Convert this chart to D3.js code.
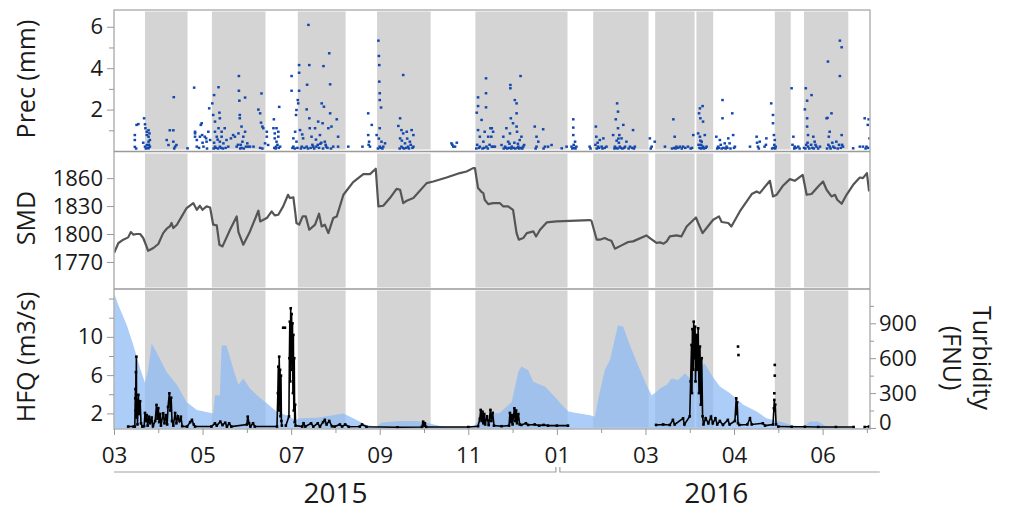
<!DOCTYPE html>
<html>
<head>
<meta charset="utf-8">
<script src="https://cdn.jsdelivr.net/npm/d3@7"></script>
<style>
  body { margin: 0; background: #fff; }
  svg { display: block; }
  text { font-family: "Open Sans", "Noto Sans", sans-serif; fill: #1a1a1a; }
</style>
</head>
<body>
<svg id="chart" width="1013" height="512"></svg>
<script>
// Time is expressed in months since 1 March 2015.

// Shaded periods [start, end]
const shadeBands = [
  [0.70, 1.66], [2.21, 3.42], [4.15, 5.23], [5.94, 7.15], [8.16, 10.24],
  [10.82, 12.07], [12.22, 13.11], [13.15, 13.53], [14.92, 15.28], [15.58, 16.58]
];

// Precipitation observations [t, mm]
const precObs = [
  [0.47,0.77],[0.47,0.53],[0.47,0.2],[0.51,1.26],[0.55,1.3],[0.68,1.58],[0.70,1.29],[0.71,1.1],[0.74,0.93],[0.74,0.77],[0.78,1.0],[0.78,0.69],[0.78,0.45],[0.74,0.29],[0.70,0.21],[0.81,0.53],[0.81,0.21],[0.80,0.85],[0.78,0.13],[0.72,0.12],[0.76,0.15],[0.50,0.12],[0.66,0.4],[0.79,0.3],
  [1.19,0.53],[1.23,0.29],[1.26,1.0],[1.34,1.0],[1.35,2.6],[1.34,0.45],[1.38,0.21],[1.41,0.29],[1.36,0.12],
  [1.66,0.13],
  [1.81,3.06],[1.83,0.85],[1.83,0.69],[1.83,0.93],[1.87,0.53],[1.87,0.21],[1.94,0.69],[1.96,1.26],[1.98,1.34],[1.99,0.77],[2.02,0.21],[2.05,0.69],[2.08,0.61],[2.09,0.45],[2.13,0.93],[2.15,2.06],[2.17,0.53],[1.92,0.15],[2.10,0.12],[2.0,0.4],
  [2.22,2.3],[2.24,1.74],[2.26,2.7],[2.28,1.42],[2.28,0.93],[2.28,0.21],[2.32,0.69],[2.36,3.08],[2.36,1.1],[2.38,1.85],[2.39,1.58],[2.39,0.45],[2.39,0.21],[2.43,0.93],[2.43,0.69],[2.47,0.37],[2.50,1.1],[2.54,0.53],[2.58,0.21],[2.25,0.12],[2.30,0.15],[2.35,0.12],[2.42,0.15],[2.46,0.12],[2.52,0.15],[2.26,0.4],[2.34,0.55],
  [2.64,0.61],[2.69,0.77],[2.73,0.69],[2.77,0.21],[2.81,0.85],[2.82,3.62],[2.82,2.91],[2.83,2.43],[2.84,1.74],[2.84,1.58],[2.88,1.18],[2.90,0.45],[2.92,0.69],[2.96,2.58],[2.96,0.93],[2.98,0.21],[3.01,0.37],[3.03,0.21],[3.07,0.21],[3.15,0.21],[2.85,0.12],[2.88,0.15],[2.93,0.12],[2.80,0.3],[2.86,0.3],
  [3.26,2.0],[3.30,1.82],[3.32,1.37],[3.33,2.78],[3.35,1.18],[3.37,1.1],[3.41,0.37],[3.45,0.69],[3.48,0.29],[3.45,0.93],[3.60,1.1],[3.61,1.53],[3.63,0.85],[3.63,0.61],[3.66,0.21],[3.67,0.45],[3.67,1.1],[3.71,0.93],[3.71,0.69],[3.73,2.13],[3.75,0.21],[3.30,0.15],[3.35,0.12],[3.62,0.15],[3.65,0.12],[3.69,0.3],[3.72,0.15],
  [4.01,3.62],[4.01,2.91],[4.05,0.61],[4.05,0.21],[4.09,0.93],[4.11,1.74],[4.12,1.98],[4.15,2.46],[4.16,2.3],[4.18,3.78],[4.18,2.91],[4.18,4.15],[4.20,1.01],[4.24,0.21],[4.27,0.61],[4.35,0.21],[4.39,6.09],[4.41,4.15],[4.36,3.2],[4.35,2.01],[4.41,1.58],[4.42,1.1],[4.46,0.69],[4.50,0.21],[4.54,1.1],[4.57,0.21],[4.61,1.42],[4.65,0.77],[4.69,2.3],[4.71,1.34],[4.73,4.1],[4.74,2.14],[4.76,0.45],[4.79,0.21],[4.84,1.1],[4.86,4.72],[4.88,3.22],[4.88,1.82],[4.91,1.18],[4.95,0.21],[5.03,1.53],[5.06,0.69],[5.06,0.21],[5.29,0.21],[4.03,0.15],[4.08,0.12],[4.14,0.15],[4.22,0.12],[4.30,0.15],[4.38,0.12],[4.44,0.15],[4.48,0.3],[4.52,0.12],[4.60,0.3],[4.63,0.15],[4.68,0.4],[4.72,0.12],[4.78,0.3],[4.82,0.15],[4.90,0.12],[4.12,0.45],[4.25,0.8],[4.56,0.55],[4.66,0.35],
  [5.61,0.21],[5.74,1.82],[5.74,0.77],[5.76,0.45],[5.78,0.21],[5.82,1.26],[5.93,0.77],[5.97,5.33],[5.98,4.59],[5.99,4.15],[5.99,3.35],[6.00,2.79],[6.00,2.46],[6.03,2.1],[6.00,1.1],[6.04,0.45],[6.08,0.21],[6.12,0.37],[6.00,0.21],[5.96,0.12],[6.02,0.15],[5.98,0.6],[6.06,0.12],[5.75,0.3],
  [6.42,1.21],[6.46,1.58],[6.46,0.61],[6.49,1.01],[6.49,0.21],[6.53,3.67],[6.53,0.85],[6.57,0.37],[6.61,0.93],[6.64,0.21],[6.68,0.45],[6.72,1.01],[6.76,0.77],[6.76,0.21],[6.45,0.12],[6.52,0.15],[6.55,0.12],[6.60,0.15],[6.66,0.12],[6.70,0.3],[6.74,0.15],[6.50,0.5],[6.62,0.6],
  [7.62,0.37],[7.66,0.21],[7.74,0.4],[7.64,0.3],[7.70,0.21],
  [8.19,1.85],[8.22,2.59],[8.22,2.17],[8.22,1.01],[8.26,0.69],[8.26,0.21],[8.30,1.5],[8.34,0.45],[8.40,3.51],[8.40,2.79],[8.40,2.11],[8.37,0.93],[8.41,0.21],[8.45,0.69],[8.50,1.1],[8.53,0.21],[8.60,0.21],[8.56,0.93],[8.18,0.12],[8.24,0.15],[8.20,0.3],[8.32,0.12],[8.36,0.15],[8.44,0.12],[8.48,0.3],[8.52,0.69],[8.53,1.1],[8.56,0.21],
  [8.75,0.29],[8.79,0.69],[8.83,0.21],[8.86,1.1],[8.90,0.45],[8.94,0.85],[8.95,3.19],[8.95,3.03],[8.96,1.58],[8.98,0.21],[9.01,1.34],[9.05,2.46],[9.09,2.3],[9.09,1.82],[9.09,1.18],[9.10,0.93],[9.13,0.21],[9.16,0.53],[9.18,3.62],[9.20,0.69],[9.24,0.21],[9.26,0.29],[8.80,0.12],[8.85,0.15],[8.88,0.12],[8.92,0.15],[8.97,0.12],[9.02,0.15],[9.06,0.12],[9.11,0.15],[9.15,0.12],[9.19,0.15],[9.22,0.12],[9.04,0.4],[9.12,0.35],[8.93,0.35],
  [9.50,1.18],[9.54,0.69],[9.54,0.21],[9.58,0.45],[9.69,1.05],[9.73,0.21],[9.80,0.21],[9.88,0.29],[9.52,0.12],[9.70,0.12],
  [10.11,0.13],[10.22,0.21],[10.33,0.21],[10.37,1.53],[10.37,1.13],[10.37,0.77],[10.41,0.45],[10.44,0.21],[10.35,0.12],[10.39,0.15],[10.42,0.12],[10.38,0.3],
  [10.74,0.21],[10.88,1.18],[10.89,0.69],[10.93,0.21],[10.97,0.53],[11.01,0.21],[11.05,0.61],[11.12,0.21],[10.76,0.12],[10.90,0.12],[10.92,0.4],[10.95,0.15],[11.03,0.12],[11.08,0.15],[10.87,0.3],
  [11.27,0.77],[11.31,0.21],[11.33,1.53],[11.36,2.3],[11.38,1.9],[11.38,1.1],[11.41,0.77],[11.42,0.21],[11.46,0.61],[11.50,1.26],[11.54,0.21],[11.57,0.45],[11.65,0.21],[11.72,1.01],[11.76,0.21],[11.30,0.12],[11.34,0.15],[11.37,0.12],[11.40,0.4],[11.44,0.15],[11.48,0.12],[11.52,0.15],[11.35,0.5],[11.39,0.6],[11.62,0.12],[11.70,0.15],[11.74,0.12],
  [12.10,0.61],[12.14,0.21],[12.21,0.45],[12.44,0.21],[12.63,1.53],[12.66,0.69],[12.70,0.21],[12.78,0.21],[12.85,0.21],[12.96,0.21],[13.08,0.77],[12.12,0.12],[12.60,0.12],[12.65,0.15],[12.68,0.12],[12.74,0.15],[12.82,0.12],[12.90,0.15],[13.02,0.12],[13.05,0.15],
  [13.21,1.82],[13.23,2.06],[13.24,1.58],[13.29,2.17],[13.30,1.42],[13.19,0.85],[13.23,0.69],[13.27,0.45],[13.30,0.21],[13.34,0.77],[13.38,0.21],[13.20,0.3],[13.22,0.15],[13.25,0.12],[13.26,0.3],[13.28,0.15],[13.32,0.12],[13.36,0.15],[13.24,0.5],
  [13.60,0.69],[13.64,0.21],[13.68,0.53],[13.74,2.46],[13.74,1.58],[13.79,0.37],[13.83,0.21],[13.87,0.61],[13.90,0.37],[13.96,1.82],[13.98,0.77],[14.02,0.21],[13.62,0.12],[13.66,0.15],[13.70,0.3],[13.72,0.12],[13.76,0.15],[13.81,0.12],[13.85,0.15],[13.92,0.12],[14.00,0.15],
  [14.36,0.21],[14.51,0.69],[14.54,0.21],[14.58,0.45],[14.69,0.21],[14.73,0.61],[14.84,2.3],[14.88,1.74],[14.88,1.34],[14.90,0.77],[14.92,0.53],[14.94,0.21],[14.52,0.4],[14.56,0.12],[14.72,0.3],[14.86,0.12],[14.89,0.15],[14.91,0.3],[14.93,0.12],
  [15.30,3.03],[15.34,0.69],[15.37,0.21],[15.45,0.21],[15.60,2.01],[15.62,3.03],[15.65,2.43],[15.65,1.58],[15.65,1.18],[15.67,0.77],[15.67,0.21],[15.75,2.7],[15.79,0.69],[15.82,0.45],[15.86,0.21],[15.94,0.21],[15.32,0.3],[15.36,0.12],[15.40,0.15],[15.48,0.12],[15.58,0.15],[15.61,0.12],[15.63,0.3],[15.66,0.4],[15.70,0.12],[15.74,0.3],[15.77,0.15],[15.80,0.12],[15.84,0.3],[15.90,0.12],
  [16.09,1.58],[16.12,4.32],[16.14,0.69],[16.16,0.93],[16.16,0.21],[16.20,1.82],[16.24,0.21],[16.31,0.45],[16.39,5.33],[16.39,3.62],[16.43,5.01],[16.43,0.77],[16.46,0.21],[16.10,0.12],[16.13,0.3],[16.18,0.12],[16.22,0.4],[16.27,0.15],[16.34,0.12],[16.37,0.3],[16.41,0.15],[16.44,0.3],[16.11,1.6],
  [16.69,0.13],[16.84,0.21],[16.91,0.21],[16.95,1.58],[16.99,0.21],[17.02,1.26],[17.04,1.53],[17.06,0.61],[16.97,0.12],[17.03,0.15]
];

// Soil moisture deficit [t, SMD]
const smdSeries = [
  [0.00,1779.6],[0.10,1790.4],[0.21,1793.9],[0.32,1796.4],[0.38,1802.1],[0.44,1799.3],[0.51,1800],[0.59,1800],[0.66,1795.7],[0.72,1788.5],[0.77,1782],[0.89,1785],[1.00,1789.3],[1.11,1801],[1.19,1805.7],[1.26,1808.1],[1.30,1811.8],[1.34,1806.4],[1.42,1810],[1.53,1818.9],[1.64,1827.9],[1.79,1833.2],[1.87,1826],[1.94,1830.3],[2.00,1826],[2.09,1829.6],[2.17,1828.5],[2.24,1810],[2.32,1809.2],[2.38,1788.5],[2.45,1786.7],[2.62,1804.6],[2.77,1818.9],[2.81,1802.1],[2.92,1788.5],[3.07,1802.8],[3.26,1825],[3.30,1813.5],[3.45,1817.1],[3.56,1824.2],[3.63,1820],[3.71,1820.7],[3.82,1829.6],[3.93,1842.1],[3.97,1838.6],[4.05,1839.3],[4.09,1824.2],[4.12,1811.8],[4.18,1810],[4.26,1818.9],[4.33,1818.9],[4.41,1804.6],[4.54,1810],[4.63,1821.8],[4.69,1808.1],[4.76,1810],[4.84,1801],[4.95,1817.1],[5.03,1818.9],[5.18,1842.1],[5.40,1855.7],[5.63,1864.3],[5.78,1864.3],[5.91,1870],[5.97,1829.6],[6.08,1830.3],[6.23,1838.6],[6.38,1848.5],[6.46,1847.5],[6.53,1833.2],[6.61,1835.7],[6.76,1838.6],[7.06,1854.6],[7.21,1856.4],[7.51,1860.6],[7.81,1865.4],[7.96,1867.1],[8.11,1870.7],[8.15,1870.7],[8.22,1849.3],[8.30,1845],[8.34,1843.9],[8.37,1836.8],[8.45,1832.1],[8.56,1833.2],[8.71,1833.2],[8.79,1829.6],[8.90,1829.6],[9.01,1826],[9.09,1801],[9.14,1793.9],[9.24,1795.7],[9.32,1801],[9.47,1802.8],[9.53,1797.4],[9.62,1804.6],[9.77,1812.4],[9.99,1813.5],[10.74,1815],[10.78,1814.3],[10.90,1793.9],[10.97,1793.9],[11.08,1795.7],[11.16,1793.9],[11.23,1792.8],[11.31,1784.3],[11.46,1787.8],[11.61,1791.4],[11.72,1792.1],[12.02,1798.5],[12.10,1795.7],[12.25,1790.4],[12.33,1791],[12.41,1789.6],[12.48,1792.1],[12.55,1797.4],[12.70,1798.5],[12.81,1797.4],[12.93,1808.1],[13.14,1817.8],[13.19,1811.8],[13.29,1801],[13.38,1806.4],[13.53,1815.3],[13.66,1818.9],[13.72,1812.9],[13.87,1811.8],[13.94,1808.1],[14.13,1824.2],[14.40,1842.9],[14.51,1845.7],[14.58,1843.9],[14.81,1857.1],[14.88,1840.3],[14.96,1842.1],[15.11,1852.1],[15.26,1858.9],[15.37,1857.1],[15.55,1863.5],[15.64,1842.1],[15.75,1842.9],[15.90,1851],[16.01,1856.4],[16.09,1847.5],[16.20,1840.3],[16.28,1842.1],[16.33,1836.8],[16.43,1832.5],[16.54,1842.1],[16.69,1852.8],[16.84,1860.6],[16.91,1860],[17.00,1865.4],[17.05,1845.7]
];

// High-flow discharge [t, m3/s]
const hfqSeries = [
  [0.00,14.4],[0.02,14.35],[0.10,13.3],[0.29,11.2],[0.44,9.1],[0.59,6.7],[0.70,5.2],[0.77,6.5],[0.85,9.3],[0.96,8.4],[1.19,6.3],[1.42,5.0],[1.64,3.2],[1.87,2.35],[2.24,2.0],[2.28,3.9],[2.39,3.9],[2.43,9.1],[2.54,9.1],[2.69,6.7],[2.81,5.0],[2.92,5.65],[3.07,4.6],[3.30,3.6],[3.45,3.05],[3.67,2.2],[3.97,1.65],[4.09,1.3],[4.20,1.5],[4.58,1.55],[4.95,1.8],[5.18,2.0],[5.40,1.5],[5.70,0.8],[5.93,0.6],[6.04,1.05],[6.46,1.2],[6.83,1.2],[7.13,0.95],[7.43,0.6],[8.11,0.55],[8.26,1.5],[8.56,2.0],[8.71,2.05],[8.98,3.2],[9.13,6.35],[9.20,6.9],[9.35,6.5],[9.47,5.3],[9.62,5.0],[9.73,4.8],[9.92,3.9],[10.11,2.9],[10.26,2.2],[10.44,2.05],[10.75,1.8],[10.86,1.65],[10.93,3.4],[11.08,6.5],[11.20,7.6],[11.38,11.2],[11.50,11.05],[11.65,9.1],[11.80,7.4],[12.02,5.0],[12.14,3.9],[12.21,4.1],[12.33,4.6],[12.48,5.0],[12.59,5.65],[12.74,5.5],[12.89,6.2],[13.00,5.65],[13.15,6.7],[13.34,7.2],[13.49,6.0],[13.68,4.8],[13.91,4.1],[14.21,2.9],[14.51,2.2],[14.73,1.5],[15.03,1.15],[15.30,0.8],[15.56,0.55],[15.71,1.15],[15.90,1.15],[16.09,0.6],[16.61,0.5],[17.07,0.45]
];

// Turbidity [t, FNU]; null entries break the trace
const turbSeries = [
  [0.32,12],[0.44,12],[0.47,12],[0.48,255],[0.485,335],[0.49,150],[0.495,480],[0.50,200],[0.505,613],[0.51,90],[0.52,240],[0.53,30],[0.55,285],[0.57,120],[0.59,230],[0.61,40],[0.64,12],[0.68,15],[0.70,129],[0.72,60],[0.74,110],[0.76,20],[0.79,97],[0.82,40],[0.85,90],[0.88,15],[0.93,60],[0.96,198],[0.98,80],[1.00,170],[1.02,50],[1.04,120],[1.06,20],[1.11,126],[1.14,40],[1.17,110],[1.20,30],[1.22,180],[1.25,298],[1.27,150],[1.29,260],[1.31,60],[1.34,20],[1.38,129],[1.41,40],[1.44,100],[1.48,60],[1.51,97],[1.54,15],[1.65,12],[1.72,50],[1.76,69],[1.80,30],[1.83,12],[2.20,12],[2.28,40],[2.32,20],[2.40,54],[2.45,25],[2.51,45],[2.55,12],[2.60,40],[2.65,12],[3.00,30],[3.02,97],[3.05,40],[3.08,12],[3.14,40],[3.18,12],
  [3.68,12],[3.70,300],[3.71,527],[3.72,150],[3.73,613],[3.74,400],[3.75,500],[3.76,100],[3.77,450],[3.78,60],[3.79,20],[3.80,null],
  [3.82,862],[3.83,null],[3.86,862],[3.87,null],
  [3.88,20],[3.95,100],[3.96,600],[3.97,914],[3.98,400],[3.99,1029],[4.00,700],[4.01,980],[4.02,500],[4.03,900],[4.04,300],[4.05,800],[4.06,150],[4.07,600],[4.08,50],[4.09,200],[4.10,20],[4.25,12],[4.28,40],[4.32,12],[4.45,40],[4.50,12],[4.60,40],[4.65,12],[4.72,50],[4.76,69],[4.80,30],[4.86,60],[4.92,15],[4.98,12],[5.10,30],[5.15,12],[5.22,30],[5.30,10],[5.55,12],[5.60,30],[5.70,10],[6.40,6],[6.95,8],[6.98,54],[7.00,20],[7.02,40],[7.05,8],[8.00,8],
  [8.22,15],[8.26,80],[8.28,155],[8.30,60],[8.32,140],[8.34,40],[8.36,120],[8.38,30],[8.42,100],[8.46,25],[8.50,155],[8.52,60],[8.55,130],[8.58,20],[8.75,15],[8.92,20],[8.94,129],[8.96,50],[8.98,110],[9.00,30],[9.04,169],[9.06,60],[9.08,150],[9.10,40],[9.13,120],[9.16,30],[9.20,26],[9.30,40],[9.35,26],[9.50,30],[9.60,20],[9.70,26],[9.80,20],[10.00,20],[10.25,20],[10.26,null],
  [12.24,26],[12.40,30],[12.55,26],[12.62,69],[12.66,30],[12.85,83],[12.88,30],[13.00,100],[13.02,400],[13.04,714],[13.05,300],[13.06,850],[13.08,500],[13.09,914],[13.10,600],[13.12,871],[13.13,400],[13.15,800],[13.17,500],[13.19,857],[13.21,300],[13.23,700],[13.25,200],[13.27,600],[13.29,100],[13.31,30],[13.36,83],[13.42,40],[13.48,97],[13.52,40],[13.58,83],[13.62,30],[13.68,60],[13.75,26],[13.86,69],[13.90,30],[14.02,60],[14.05,255],[14.06,120],[14.07,220],[14.09,40],[14.095,null],
  [14.09,700],[14.095,null],[14.10,627],[14.105,null],
  [14.12,26],[14.30,30],[14.36,83],[14.40,30],[14.65,40],[14.70,20],[14.88,30],[14.90,169],[14.91,241],[14.92,150],[14.93,200],[14.95,30],[14.96,null],
  [14.91,298],[14.915,null],[14.92,450],[14.925,null],[14.92,542],[14.93,null],
  [15.00,12],[15.30,10],[15.60,10],[15.90,8],[16.30,8],[16.70,8],[16.80,null],[16.95,8],[17.05,12]
];

// Axis ticks and labels
const monthTicks = [0, 2, 4, 6, 8, 10, 12, 14, 16];
const monthLabels = ["03", "05", "07", "09", "11", "01", "03", "04", "06"];
const minorMonthTicks = [1, 3, 5, 7, 9, 11, 13, 15, 17];
const yearLabels = ["2015", "2016"];
const yearSpans = [[0, 10], [10, 17.2]];
const precTicks = [2, 4, 6];
const precMinorTicks = [1, 3, 5];
const smdTicks = [1770, 1800, 1830, 1860];
const hfqTicks = [2, 6, 10];
const hfqMinorTicks = [4, 8, 12, 14];
const turbTicks = [0, 300, 600, 900];
const turbMinorTicks = [150, 450, 750, 1050];

// ---- layout ----
const left = 114, right = 870;
const precBox = [10, 151], smdBox = [152, 289], hfqBox = [289, 429];

const svg = d3.select("#chart");

const x = d3.scaleLinear().domain([0, 17.07]).range([left, right]);
const yPrec = d3.scaleLinear().domain([0, 6.81]).range([precBox[1], precBox[0]]);
const ySmd = d3.scaleLinear().domain([1741, 1888]).range([smdBox[1], smdBox[0]]);
const yHfq = d3.scaleLinear().domain([0.37, 15]).range([hfqBox[1], hfqBox[0]]);
const yTurb = d3.scaleLinear().domain([-9, 1195]).range([hfqBox[1], hfqBox[0]]);

const defs = svg.append("defs");
function clipFor(id, box) {
  defs.append("clipPath").attr("id", id)
    .append("rect").attr("x", left).attr("y", box[0])
    .attr("width", right - left).attr("height", box[1] - box[0]);
  return `url(#${id})`;
}

function drawBands(g, box) {
  g.selectAll("rect.band").data(shadeBands).join("rect")
    .attr("class", "band")
    .attr("x", d => x(d[0]))
    .attr("width", d => x(d[1]) - x(d[0]))
    .attr("y", box[0] + 1.5)
    .attr("height", box[1] - box[0] - 3)
    .attr("fill", "#d4d4d4");
}

// ---- precipitation panel ----
const gPrec = svg.append("g").attr("clip-path", clipFor("clipPrec", precBox));
drawBands(gPrec, precBox);
gPrec.selectAll("rect.pt").data(precObs).join("rect")
  .attr("class", "pt")
  .attr("x", d => x(d[0]) - 1.3)
  .attr("y", d => yPrec(d[1]) - 1.2)
  .attr("width", 2.6).attr("height", 2.4)
  .attr("fill", "#1247ae");

// ---- SMD panel ----
const gSmd = svg.append("g").attr("clip-path", clipFor("clipSmd", smdBox));
drawBands(gSmd, smdBox);
gSmd.append("path").datum(smdSeries)
  .attr("fill", "none").attr("stroke", "#555").attr("stroke-width", 2.2)
  .attr("stroke-linejoin", "round")
  .attr("d", d3.line().x(d => x(d[0])).y(d => ySmd(d[1])));

// ---- HFQ / turbidity panel ----
const gHfq = svg.append("g").attr("clip-path", clipFor("clipHfq", hfqBox));
drawBands(gHfq, hfqBox);
gHfq.append("path").datum(hfqSeries)
  .attr("fill", "#8abaf4").attr("fill-opacity", 0.72)
  .attr("d", d3.area().x(d => x(d[0])).y0(hfqBox[1]).y1(d => yHfq(d[1])));
gHfq.append("path").datum(turbSeries)
  .attr("fill", "none").attr("stroke", "#000").attr("stroke-width", 1.6)
  .attr("d", d3.line().defined(d => d[1] != null).x(d => x(d[0])).y(d => yTurb(d[1])));
gHfq.selectAll("rect.tp").data(turbSeries.filter(d => d[1] != null)).join("rect")
  .attr("class", "tp")
  .attr("x", d => x(d[0]) - 1.3).attr("y", d => yTurb(d[1]) - 1.3)
  .attr("width", 2.6).attr("height", 2.6).attr("fill", "#000");

// ---- frame and separators ----
svg.append("rect").attr("x", left).attr("y", precBox[0])
  .attr("width", right - left).attr("height", hfqBox[1] - precBox[0])
  .attr("fill", "none").attr("stroke", "#b4b4b4").attr("stroke-width", 1.5);
[precBox[1] + 0.5, smdBox[1]].forEach(yy => {
  svg.append("line").attr("x1", left).attr("x2", right).attr("y1", yy).attr("y2", yy)
    .attr("stroke", "#9a9a9a").attr("stroke-width", 1.6);
});

// ---- axes ----
function styleAxis(g, fontSize) {
  g.select(".domain").remove();
  g.selectAll(".tick line").attr("stroke", "#999").attr("stroke-width", 1);
  g.selectAll(".tick text").attr("font-size", fontSize).attr("fill", "#1a1a1a")
    .attr("font-family", '"Open Sans", "Noto Sans", sans-serif');
}

function leftAxis(scale, major, minor) {
  const g = svg.append("g").attr("transform", `translate(${left},0)`)
    .call(d3.axisLeft(scale).tickValues(major).tickSize(7).tickPadding(4).tickFormat(d3.format("d")));
  styleAxis(g, 22);
  if (minor) {
    const gm = svg.append("g").attr("transform", `translate(${left},0)`)
      .call(d3.axisLeft(scale).tickValues(minor).tickSize(5).tickFormat(""));
    styleAxis(gm, 22);
  }
}
leftAxis(yPrec, precTicks, precMinorTicks);
leftAxis(ySmd, smdTicks, null);
leftAxis(yHfq, hfqTicks, hfqMinorTicks);

// right turbidity axis
const gR = svg.append("g").attr("transform", `translate(${right},0)`)
  .call(d3.axisRight(yTurb).tickValues(turbTicks).tickSize(6).tickPadding(3).tickFormat(d3.format("d")));
styleAxis(gR, 22);
// keep the lowest label inside the panel
gR.selectAll(".tick text").attr("dy", d => (yTurb(d) > hfqBox[1] - 8 ? "0.08em" : "0.32em"));
const gRm = svg.append("g").attr("transform", `translate(${right},0)`)
  .call(d3.axisRight(yTurb).tickValues(turbMinorTicks).tickSize(4).tickFormat(""));
styleAxis(gRm, 22);

// bottom month axis
const gB = svg.append("g").attr("transform", `translate(0,${hfqBox[1]})`)
  .call(d3.axisBottom(x).tickValues(monthTicks).tickSize(6).tickPadding(12)
    .tickFormat((d, i) => monthLabels[i]));
styleAxis(gB, 22.5);
const gBm = svg.append("g").attr("transform", `translate(0,${hfqBox[1]})`)
  .call(d3.axisBottom(x).tickValues(minorMonthTicks).tickSize(4).tickFormat(""));
styleAxis(gBm, 22);

// year brackets
const yearY = 472;
yearSpans.forEach((s, i) => {
  const x0 = x(s[0]) + (i === 0 ? 0 : 3);
  const x1 = x(s[1]) - (i === 0 ? 1 : -4);
  const path = i === 0
    ? `M${x0},${yearY}H${x1}V${yearY - 5}`
    : `M${x0},${yearY - 5}V${yearY}H${x1}`;
  svg.append("path").attr("d", path).attr("fill", "none")
    .attr("stroke", "#a0a0a0").attr("stroke-width", 1.2);
  svg.append("text").attr("x", x((s[0] + s[1]) / 2)).attr("y", 503)
    .attr("text-anchor", "middle").attr("font-size", 28).text(yearLabels[i]);
});

// axis titles
function vTitle(cx, cy, txt, rot) {
  svg.append("text").attr("transform", `translate(${cx},${cy}) rotate(${rot})`)
    .attr("text-anchor", "middle").attr("font-size", 25).text(txt);
}
vTitle(35, 79, "Prec (mm)", -90);
vTitle(35, 218, "SMD", -90);
vTitle(35, 357, "HFQ (m3/s)", -90);
vTitle(973, 358, "Turbidity", 90);
vTitle(943, 358, "(FNU)", 90);
</script>
</body>
</html>
